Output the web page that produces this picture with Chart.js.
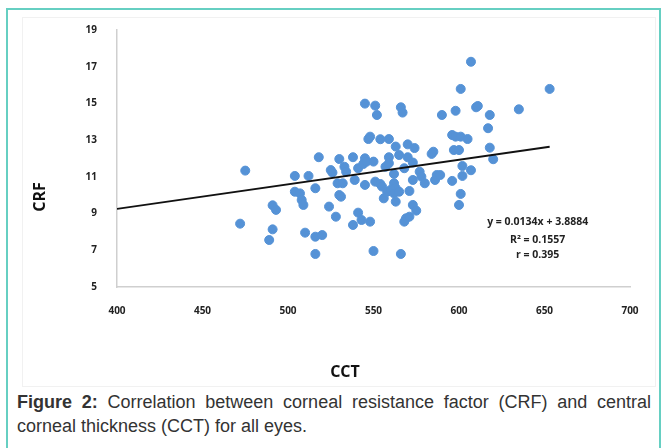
<!DOCTYPE html>
<html>
<head>
<meta charset="utf-8">
<script src="https://cdn.jsdelivr.net/npm/chart.js@4"></script>
<style>
  body { margin: 0; background: #fff; }
  #frame { position: absolute; left: 6px; top: 8px; width: 651px; height: 460px; border: 2px solid #66cfc2; border-bottom: none; }
  #box { position: absolute; left: 22px; top: 17px; width: 632px; height: 368px; border: 1px solid #f1f1f1; }
  #wrap { position: absolute; left: 0; top: 0; width: 664px; height: 390px; }
  #cap { position: absolute; left: 17px; top: 390px; width: 634px; font: 18px "Liberation Sans", Arial, sans-serif; color: #333; line-height: 24px; }
  #cap .l1 { text-align: justify; text-align-last: justify; white-space: nowrap; }
</style>
</head>
<body>
<div id="frame"></div>
<div id="box"></div>
<div id="wrap"><canvas id="chart" width="664" height="390"></canvas></div>
<div id="cap"><div class="l1"><b>Figure 2:</b> Correlation between corneal resistance factor (CRF) and central</div><div>corneal thickness (CCT) for all eyes.</div></div>
<script>
// CCT (x) and CRF (y) for each eye
const cct = [475, 491, 493, 472, 491, 489,
  545, 551, 552, 566, 567, 590, 547, 548, 554, 559, 563, 570, 574, 585, 584,
  518, 530, 538, 545, 559, 565, 570, 573, 525, 526, 533, 534, 541, 544, 546, 550,
  557, 559, 562, 568, 577, 578, 587, 586, 504, 512, 529, 532, 539, 545, 551, 554,
  555, 562, 563, 573, 580, 504, 507, 508, 509, 516, 530, 531, 558, 560, 562, 565,
  556, 563, 571, 573, 575, 524, 528, 541, 543, 548, 538, 569, 568, 571,
  510, 516, 520, 516, 550, 566,
  607, 601, 653, 598, 610, 611, 618, 635, 617, 596, 598, 601, 605, 597, 600, 618,
  620, 602, 607, 589, 602, 596, 601, 600];
const crf = [11.34, 9.45, 9.2, 8.45, 8.14, 7.56,
  14.99, 14.88, 14.37, 14.79, 14.5, 14.37, 13.06, 13.19, 13.05, 13.06, 12.65, 12.77, 12.57, 12.37, 12.25,
  12.07, 11.97, 12.07, 12.01, 12.07, 12.19, 12.07, 11.78, 11.37, 11.23, 11.55, 11.28, 11.47, 11.7, 11.83, 11.83,
  11.55, 11.74, 11.16, 11.47, 11.28, 11.01, 11.1, 10.83, 11.05, 11.05, 10.65, 10.65, 10.83, 10.56, 10.74, 10.61,
  10.47, 10.65, 10.38, 10.83, 10.65, 10.19, 10.1, 9.74, 9.47, 10.38, 10.01, 9.92, 10.19, 10.29, 10.1, 10.19,
  9.83, 9.65, 10.23, 9.47, 9.16, 9.38, 8.83, 9.05, 8.65, 8.56, 8.38, 8.74, 8.56, 8.83,
  7.96, 7.74, 7.83, 6.8, 6.96, 6.8,
  17.27, 15.79, 15.79, 14.6, 14.79, 14.86, 14.37, 14.68, 13.65, 13.28, 13.19, 13.19, 13.06, 12.46, 12.46, 12.59,
  11.96, 11.59, 11.36, 11.1, 11.05, 10.78, 10.07, 9.47];

// linear trend line end points (y = 0.0134x + 3.8884)
const trendX = [400, 653];
const trendY = [9.25, 12.64];

const xTicks = [400, 450, 500, 550, 600, 650, 700];
const yTicks = [5, 7, 9, 11, 13, 15, 17, 19];

const statLines = ['y = 0.0134x + 3.8884', 'R\u00b2 = 0.1557', 'r = 0.395'];
const statPos = { x: 646, y: [8.54, 7.56, 6.75] };

const points = cct.map((v, i) => ({ x: v, y: crf[i] }));
const trend = trendX.map((v, i) => ({ x: v, y: trendY[i] }));

const tickFont = { family: '"Open Sans", sans-serif', size: 10, weight: 'bold' };

const labelsPlugin = {
  id: 'labels',
  afterDraw(chart) {
    const c = chart.ctx;
    const xs = chart.scales.x, ys = chart.scales.y;
    c.save();
    c.fillStyle = '#222';
    c.textAlign = 'center';
    c.textBaseline = 'middle';
    c.font = 'bold 10.5px "Open Sans", sans-serif';
    statLines.forEach((t, i) => {
      c.fillText(t, xs.getPixelForValue(statPos.x), ys.getPixelForValue(statPos.y[i]));
    });
    c.font = 'bold 16px "Open Sans", sans-serif';
    c.fillStyle = '#111';
    c.fillText('CCT', 345, 372);
    c.translate(40, 197);
    c.rotate(-Math.PI / 2);
    c.fillText('CRF', 0, 0);
    c.restore();
  }
};

new Chart(document.getElementById('chart'), {
  type: 'scatter',
  data: {
    datasets: [{
      label: 'trend',
      type: 'line',
      data: trend,
      borderColor: '#111',
      borderWidth: 1.8,
      pointRadius: 0,
      fill: false
    }, {
      label: 'CRF vs CCT',
      data: points,
      backgroundColor: '#5592d6',
      borderColor: '#5592d6',
      pointRadius: 4.5,
      pointHoverRadius: 4.5
    }]
  },
  options: {
    responsive: false,
    animation: false,
    layout: { padding: { top: 30, right: 34, left: 0, bottom: 0 } },
    plugins: { legend: { display: false }, tooltip: { enabled: false } },
    scales: {
      x: {
        type: 'linear', min: 400, max: 700,
        afterBuildTicks: s => { s.ticks = xTicks.map(v => ({ value: v })); },
        afterFit: s => { s.height = 103; },
        grid: { display: false },
        border: { color: '#cfcfcf', width: 1.5 },
        ticks: { font: tickFont, color: '#222', padding: 10 }
      },
      y: {
        type: 'linear', min: 5, max: 19,
        afterBuildTicks: s => { s.ticks = yTicks.map(v => ({ value: v })); },
        afterFit: s => { s.width = 117; },
        grid: { display: false },
        border: { color: '#cfcfcf', width: 1.5 },
        ticks: { font: tickFont, color: '#222', padding: 12 }
      }
    }
  },
  plugins: [labelsPlugin]
});
</script>
</body>
</html>
